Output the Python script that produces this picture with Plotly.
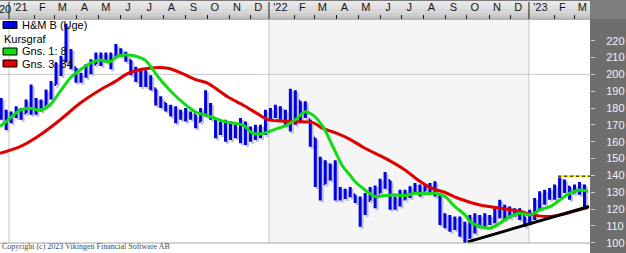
import numpy as np
import pandas as pd
import plotly.graph_objects as go

# ---------------- data (weekly bars, H&M B) ----------------
start_week = "2020-12-21"

highs = [186, 179, 178, 181, 180, 185, 194, 186, 185, 191,
         196, 207, 211, 230, 215, 204, 201, 206, 209, 213,
         213, 213, 213, 218, 215.5, 213.5, 208.5, 204.5, 203.5, 202.5,
         199.5, 191.5, 187, 183, 182, 181, 179, 180, 178, 176,
         180, 190.5, 183, 173, 172, 173, 172, 170, 174, 172,
         169, 170, 170, 179, 180, 182, 181, 179, 191.5, 190.5,
         184, 184, 173, 162, 151, 149, 147, 149, 133, 132,
         133, 128.5, 127.5, 129.5, 133, 134, 138, 142, 137, 127.5,
         131.5, 131.5, 133.5, 135.5, 134.5, 134.5, 135.5, 136.5, 128.5, 117.5,
         116.5, 115.5, 115.5, 112.5, 116.5, 117.5, 116.5, 117.5, 116.5, 121.5,
         125.5, 122.5, 121.5, 120.5, 120.5, 115.5, 119.5, 126.5, 130.5, 131.5,
         132.5, 134.5, 139.5, 137.5, 133.5, 134.5, 136, 134.5]

lows = [173, 167, 171, 174, 173, 177, 176, 176, 178, 182,
        185, 194, 199, 207, 203, 195, 195, 198, 200, 206,
        205, 207, 203, 211, 210.5, 207.5, 199.5, 195.5, 192.5, 192.5,
        190.5, 181.5, 180, 178, 175, 171, 173, 172, 173, 168,
        172, 175, 173, 162, 164, 160, 161, 162, 159, 158,
        160, 161, 162, 164, 173, 174, 173, 169, 166, 170,
        172, 174, 157, 133, 125, 135, 137, 125, 125, 126,
        127, 123.5, 109.5, 116.5, 125, 120.5, 129.5, 132, 119.5, 119.5,
        121.5, 125.5, 126.5, 129.5, 127.5, 130.5, 129.5, 127.5, 110.5, 108.5,
        106.5, 107.5, 103.5, 99.5, 102.5, 105.5, 108.5, 109.5, 110.5, 111.5,
        114.5, 113.5, 114.5, 115.5, 113.5, 109.5, 111.5, 113.5, 119.5, 122.5,
        125.5, 125.5, 126.5, 129.5, 125.5, 129.5, 128.5, 120.5]

closes = [178, 172, 175, 178, 177, 181, 183, 180, 182, 188,
          193, 202, 208, 214, 206, 197, 199, 203, 206, 210,
          209, 210, 208, 214, 212, 210, 203, 199, 196, 198,
          193, 185, 183, 180, 178, 175, 176, 175, 176, 170,
          176, 178, 175, 166, 168, 163, 166, 165, 168, 162,
          164, 166, 167, 175, 176, 177, 175, 176, 182, 185,
          180, 178, 162, 140, 135, 143, 141, 130, 128, 129,
          130, 126, 118, 122, 130, 125, 134, 137, 124, 123,
          126, 128, 131, 133, 130, 132, 131, 133, 113, 112,
          110, 112, 107, 103, 110, 112, 114, 114, 115, 118,
          121, 117, 119, 118, 116, 112, 116, 124, 128, 127,
          129, 130, 136, 133, 129, 131, 133, 122]

first_open = 181

# moving averages (position in weeks from start_week)
ma8_weeks = [-0.23, 1.77, 3.78, 5.78, 7.79, 9.80, 11.80, 13.81, 15.81, 17.82,
             19.82, 21.83, 23.23, 24.84, 26.84, 28.85, 30.25, 31.46, 33.46, 35.47,
             37.47, 39.48, 40.88, 42.89, 44.89, 46.90, 48.50, 50.50, 52.51, 54.51,
             57.33, 59.33, 60.94, 62.54, 64.55, 66.55, 68.56, 69.96, 70.97, 72.97,
             74.98, 76.98, 78.99, 80.99, 83.00, 85.01, 87.01, 89.02, 91.02, 93.03,
             94.03, 96.04, 98.04, 100.05, 102.05, 104.06, 106.06, 108.07, 110.07, 112.08,
             114.09, 116.09, 117.70]
ma8_vals = [169, 173.9, 178.8, 179.8, 178.8, 181.8, 189.7, 197.7, 202.6, 206.6,
            208.5, 207.5, 210.5, 211.5, 210.9, 208.5, 203.6, 198.6, 191.7, 185.8,
            180.8, 176.9, 175.9, 173.9, 171.9, 170.9, 169.9, 164.9, 164.9, 166.9,
            169.9, 173.9, 177.8, 175.8, 168.9, 157, 145.1, 140.2, 136.3, 131.3,
            127.4, 128, 128.4, 128, 129.4, 129, 129.4, 127.4, 121.4, 116.5,
            112.5, 109.6, 108.6, 111.5, 115.5, 117.5, 116.5, 119.5, 121.4, 125.4,
            129.4, 131.3, 130.4]

ma34_weeks = [-0.23, 3.78, 7.79, 11.80, 15.81, 19.82, 22.83, 25.44, 28.25, 30.85,
              33.46, 36.27, 38.88, 41.48, 43.49, 45.50, 48.50, 51.31, 53.32, 55.93,
              59.33, 62.54, 64.55, 67.36, 69.96, 72.97, 76.98, 80.99, 83.60, 86.41,
              89.02, 91.62, 96.04, 100.05, 104.06, 106.67, 109.48, 112.08, 114.69, 117.70]
ma34_vals = [153.1, 157, 164, 172.9, 182.8, 190.7, 195.7, 200.6, 203, 204,
             203.6, 200.6, 197, 194.7, 190.7, 186.5, 181.8, 176.8, 173.3, 172.3,
             171.9, 171.3, 167.9, 164.9, 161.4, 156.1, 150.2, 143.2, 137.3, 132.3,
             129.8, 126.4, 122.4, 120.5, 118.5, 116.5, 115.5, 116.5, 118.5, 121]

trend_weeks = [93.6, 117.9]
trend_vals = [100.5, 121.5]
resist_weeks = [111.7, 118.2]
resist_vals = [139.5, 139.5]

y_ticks = [100, 110, 120, 130, 140, 150, 160, 170, 180, 190, 200, 210, 220]

# ---------------- helpers ----------------
t0 = pd.Timestamp(start_week)
def wk(w):
    return t0 + pd.to_timedelta(np.asarray(w, dtype=float) * 7, unit="D")

n = len(closes)
dates = wk(np.arange(n))
opens = np.clip(np.array([first_open] + closes[:-1], dtype=float), lows, highs)

W, H = 626, 253
ML, MR, MT, MB = 0, 36, 20, 10
PW, PH = W - ML - MR, H - MT - MB
def py(px):  # pixel-from-top -> paper y
    return (H - MB - px) / PH
def pxx(px):
    return (px - ML) / PW

# shadow offset (2 px right/down)
day_per_px = 365 / 260.0
val_per_px = 1 / 1.6833
sh_dates = dates + pd.Timedelta(days=2 * day_per_px)

fig = go.Figure()
blue = "#0000e0"
shadow = "#c0c0da"

fig.add_trace(go.Ohlc(
    x=sh_dates, open=opens - 2 * val_per_px, high=np.array(highs) - 2 * val_per_px,
    low=np.array(lows) - 2 * val_per_px, close=np.array(closes) - 2 * val_per_px,
    increasing=dict(line=dict(color=shadow, width=3)),
    decreasing=dict(line=dict(color=shadow, width=3)),
    tickwidth=0.3, hoverinfo="skip", showlegend=False))
fig.add_trace(go.Ohlc(
    x=dates, open=opens, high=highs, low=lows, close=closes,
    increasing=dict(line=dict(color=blue, width=3)),
    decreasing=dict(line=dict(color=blue, width=3)),
    tickwidth=0.3, hoverinfo="skip", showlegend=False))

fig.add_trace(go.Scatter(x=wk(ma34_weeks), y=ma34_vals, mode="lines",
                         line=dict(color="#e00000", width=3, shape="spline", smoothing=0.8),
                         hoverinfo="skip", showlegend=False))
fig.add_trace(go.Scatter(x=wk(ma8_weeks), y=ma8_vals, mode="lines",
                         line=dict(color="#10dd10", width=3, shape="spline", smoothing=0.8),
                         hoverinfo="skip", showlegend=False))
fig.add_trace(go.Scatter(x=wk(trend_weeks), y=trend_vals, mode="lines",
                         line=dict(color="#000000", width=3),
                         hoverinfo="skip", showlegend=False))
fig.add_trace(go.Scatter(x=wk(resist_weeks), y=resist_vals, mode="lines",
                         line=dict(color="#ffee00", width=2.5),
                         hoverinfo="skip", showlegend=False))
fig.add_trace(go.Scatter(x=wk(resist_weeks), y=resist_vals, mode="lines",
                         line=dict(color="#000000", width=1, dash="3px,3px"),
                         hoverinfo="skip", showlegend=False))

# ---------------- axes ----------------
months = pd.date_range("2021-01-01", "2023-03-01", freq="MS")
tickvals = [m + pd.Timedelta(days=16) for m in months]
letters = "JFMAMJJASOND"
ticktext = [("'" + m.strftime("%y")) if m.month == 1 else letters[m.month - 1] for m in months]
minor_vals = [m + pd.Timedelta(days=5) for m in months if m.month != 1]

x_range = [pd.Timestamp("2020-12-19 08:40"), pd.Timestamp("2023-03-27 17:00")]

fig.update_xaxes(type="date", range=x_range, side="top", tickvals=tickvals, ticktext=ticktext,
                 ticks="", showgrid=False, zeroline=False, showline=False,
                 tickfont=dict(family="Liberation Sans, Arial", size=11, color="#151515"),
                 ticklabelstandoff=6,
                 minor=dict(tickvals=minor_vals, ticks="outside", ticklen=4,
                            tickcolor="#202020", tickwidth=1, showgrid=False),
                 rangeslider=dict(visible=False), fixedrange=True)
fig.update_yaxes(range=[99.8, 232.3], side="right", tickvals=y_ticks,
                 ticks="outside", ticklen=4, tickcolor="#d0d0d0", tickwidth=1,
                 showgrid=False, zeroline=False, showline=False,
                 tickfont=dict(family="Liberation Sans, Arial", size=11, color="#f2f2f2"),
                 ticklabelstandoff=9, fixedrange=True)

# ---------------- decorations ----------------
shapes = []
# 2022 light shading
shapes.append(dict(type="rect", xref="x", yref="paper", x0="2022-01-01", x1="2023-01-01",
                   y0=0, y1=1, fillcolor="#f5f5f5", line=dict(width=0), layer="below"))
# horizontal grid at 200
shapes.append(dict(type="line", xref="paper", yref="y", x0=0, x1=1, y0=200, y1=200,
                   line=dict(color="#c8c8c8", width=1), layer="below"))
# year gridlines
for yd in ["2021-01-01", "2022-01-01", "2023-01-01"]:
    shapes.append(dict(type="line", xref="x", yref="paper", x0=yd, x1=yd, y0=0, y1=1,
                       line=dict(color="#c4c4c4", width=1), layer="below"))
# top band gradient
band = [(0, 1, "#7a7a7a"), (1, 5, "#e8e8e8"), (5, 9, "#e0e0e0"), (9, 13, "#d8d8d8"),
        (13, 16, "#cecece"), (16, 18, "#c4c4c4"), (18, 20, "#b4b4b4")]
for a, b, c in band:
    shapes.append(dict(type="rect", xref="paper", yref="paper", x0=0, x1=1,
                       y0=py(b), y1=py(a), fillcolor=c, line=dict(width=0), layer="below"))
# year marks in band
for yd in ["2021-01-01", "2022-01-01", "2023-01-01"]:
    shapes.append(dict(type="line", xref="x", yref="paper", x0=yd, x1=yd, y0=py(19), y1=py(2),
                       line=dict(color="#202020", width=1), layer="above"))
# right panel
shapes.append(dict(type="rect", xref="paper", yref="paper", x0=1, x1=pxx(W),
                   y0=py(H), y1=py(0), fillcolor="#6e6e6e", line=dict(width=0), layer="below"))
shapes.append(dict(type="rect", xref="paper", yref="paper", x0=1, x1=pxx(W),
                   y0=py(19), y1=py(0), fillcolor="#7e7e7e", line=dict(width=0), layer="below"))
# bottom border
shapes.append(dict(type="line", xref="paper", yref="paper", x0=0, x1=1, y0=0, y1=0,
                   line=dict(color="#a8a8a8", width=1), layer="above"))

# legend (drawn by hand)
legend_items = [("H&M B (Uge)", blue, 25), ("Kursgraf", None, 39),
                ("Gns. 1: 8", "#10dd10", 51.5), ("Gns. 3: 34", "#e00000", 63.5)]
annotations = []
for label, col, yc in legend_items:
    if col:
        shapes.append(dict(type="rect", xref="paper", yref="paper", x0=pxx(3), x1=pxx(17),
                           y0=py(yc + 3.5), y1=py(yc - 3.5), fillcolor=col,
                           line=dict(color="#000000", width=1), layer="above"))
    annotations.append(dict(xref="paper", yref="paper", x=pxx(20 if col else 2), y=py(yc),
                            text=label, showarrow=False, xanchor="left", yanchor="middle",
                            font=dict(family="Liberation Sans, Arial", size=11, color="#000000")))

annotations.append(dict(xref="paper", yref="paper", x=0, y=py(9), text="20", showarrow=False,
                        xanchor="left", yanchor="middle", xshift=-3,
                        font=dict(family="Liberation Sans, Arial", size=11, color="#151515")))
annotations.append(dict(xref="paper", yref="paper", x=0, y=py(246.5), text="Copyright (c) 2023 Vikingen Financial Software AB",
                        showarrow=False, xanchor="left", yanchor="middle",
                        font=dict(family="Liberation Serif, Times New Roman", size=8, color="#4a4a4a")))

fig.update_layout(width=W, height=H, margin=dict(l=ML, r=MR, t=MT, b=MB),
                  paper_bgcolor="#ffffff", plot_bgcolor="#ffffff",
                  showlegend=False, shapes=shapes, annotations=annotations,
                  hovermode=False)

fig.write_html("out.html")
